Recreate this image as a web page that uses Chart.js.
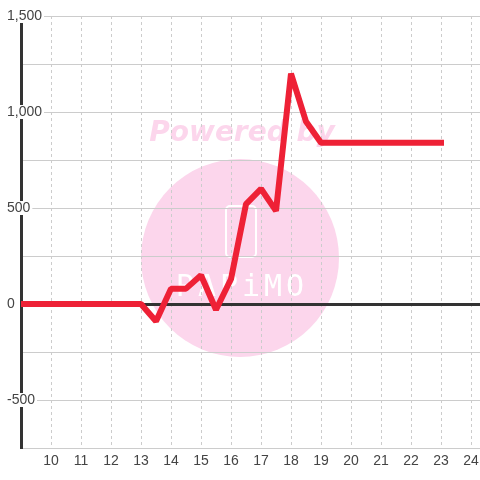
<!DOCTYPE html>
<html>
<head>
<meta charset="utf-8">
<script src="https://cdn.jsdelivr.net/npm/chart.js@4"></script>
<style>
html,body{margin:0;padding:0;background:#fff;}
#wrap{width:480px;height:480px;position:relative;}
</style>
</head>
<body>
<div id="wrap"><canvas id="c" width="480" height="480"></canvas></div>
<script>
const xValues = [9, 10, 11, 12, 13, 13.5, 14, 14.5, 15, 15.5, 16, 16.5, 17, 17.5, 18, 18.5, 19, 20, 21, 22, 23];
const yValues = [0, 0, 0, 0, 0, -90, 80, 80, 150, -30, 130, 520, 600, 485, 1200, 950, 840, 840, 840, 840, 840];
const xTicks = [10, 11, 12, 13, 14, 15, 16, 17, 18, 19, 20, 21, 22, 23, 24];
const yLabelTicks = [-500, 0, 500, 1000, 1500];

const watermark = {
  id: 'watermark',
  beforeDraw(chart) {
    const ctx = chart.ctx;
    ctx.save();
    ctx.fillStyle = '#fff';
    ctx.fillRect(0, 0, chart.width, chart.height);
    ctx.fillStyle = 'rgb(252,214,236)';
    ctx.beginPath();
    ctx.arc(240, 258, 99, 0, Math.PI * 2);
    ctx.fill();
    ctx.font = 'italic bold 28px "DejaVu Sans"';
    ctx.textAlign = 'center';
    ctx.textBaseline = 'middle';
    ctx.fillText('Powered by', 242, 134);
    ctx.strokeStyle = '#fff';
    ctx.lineWidth = 2;
    ctx.beginPath();
    if (ctx.roundRect) ctx.roundRect(226, 206, 30, 51, 4); else ctx.rect(226, 206, 30, 51);
    ctx.stroke();
    ctx.fillStyle = '#fff';
    ctx.font = '30px "DejaVu Sans Mono"';
    try { ctx.letterSpacing = '4px'; } catch (e) {}
    ctx.fillText('PAPiMO', 242, 288);
    ctx.restore();
  }
};

new Chart(document.getElementById('c'), {
  type: 'line',
  data: {
    datasets: [{
      data: xValues.map((x, i) => ({x: x, y: yValues[i]})),
      borderColor: '#ee2136',
      borderWidth: 6,
      borderCapStyle: 'square',
      borderJoinStyle: 'bevel',
      pointRadius: 0,
      pointHoverRadius: 0,
      tension: 0,
      fill: false
    }]
  },
  options: {
    responsive: false,
    animation: false,
    events: [],
    layout: {padding: {top: 16, left: 4, right: 0, bottom: 0}},
    plugins: {legend: {display: false}, tooltip: {enabled: false}},
    scales: {
      x: {
        type: 'linear',
        min: 9,
        max: 24.3,
        afterBuildTicks: (scale) => { scale.ticks = xTicks.map(v => ({value: v})); },
        afterFit: (scale) => { scale.height = 32; scale.paddingRight = 0; scale.paddingLeft = 0; },
        ticks: {
          padding: 5,
          color: '#444',
          font: {family: '"Liberation Sans", Arial, sans-serif', size: 14},
          maxRotation: 0,
          autoSkip: false,
          callback: (v) => String(v)
        },
        grid: {color: '#ccc', lineWidth: 1, drawTicks: false},
        border: {display: true, color: '#ccc', width: 1, dash: [3, 3]}
      },
      y: {
        type: 'linear',
        min: -750,
        max: 1500,
        afterFit: (scale) => { scale.width = 17; },
        ticks: {
          stepSize: 250,
          mirror: true,
          padding: -14,
          crossAlign: 'near',
          color: '#444',
          font: {family: '"Liberation Sans", Arial, sans-serif', size: 14, lineHeight: 1},
          callback: (v) => yLabelTicks.includes(v) ? v.toLocaleString('en-US') : '',
          showLabelBackdrop: (ctx) => !!(ctx.tick && yLabelTicks.includes(ctx.tick.value)),
          backdropColor: '#fff',
          backdropPadding: {top: 0, bottom: 0, left: 2, right: 2}
        },
        grid: {
          drawTicks: false,
          color: (ctx) => (ctx.tick && ctx.tick.value === 0) ? '#333' : '#ccc',
          lineWidth: (ctx) => (ctx.tick && ctx.tick.value === 0) ? 3 : 1
        },
        border: {display: true, color: '#333', width: 3}
      }
    }
  },
  plugins: [watermark]
});
</script>
</body>
</html>
